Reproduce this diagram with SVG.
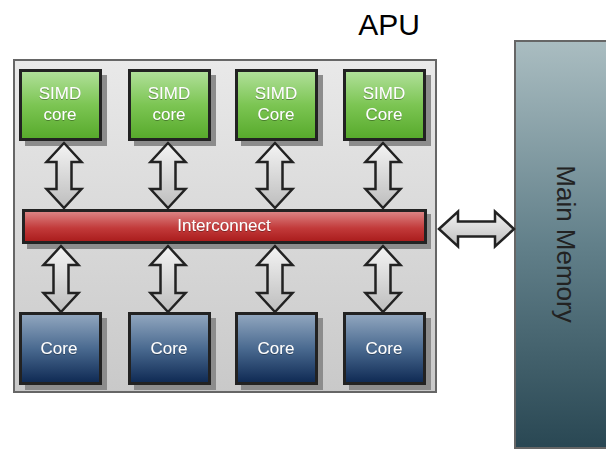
<svg xmlns="http://www.w3.org/2000/svg" width="606" height="450" viewBox="0 0 606 450">
  <defs>
    <linearGradient id="gApu" x1="0" y1="0" x2="0" y2="1">
      <stop offset="0" stop-color="#e9e9e9"/>
      <stop offset="1" stop-color="#c9c9c9"/>
    </linearGradient>
    <linearGradient id="gSimd" x1="0" y1="0" x2="0" y2="1">
      <stop offset="0" stop-color="#b2e19c"/>
      <stop offset="0.5" stop-color="#7cc553"/>
      <stop offset="1" stop-color="#56a92a"/>
    </linearGradient>
    <linearGradient id="gCore" x1="0" y1="0" x2="0" y2="1">
      <stop offset="0" stop-color="#93a8c0"/>
      <stop offset="0.5" stop-color="#4a6a90"/>
      <stop offset="1" stop-color="#0d2852"/>
    </linearGradient>
    <linearGradient id="gBus" x1="0" y1="0" x2="0" y2="1">
      <stop offset="0" stop-color="#de8a8a"/>
      <stop offset="0.55" stop-color="#c23a3a"/>
      <stop offset="1" stop-color="#a81a1a"/>
    </linearGradient>
    <linearGradient id="gMem" x1="0" y1="0" x2="0" y2="1">
      <stop offset="0" stop-color="#aabdc1"/>
      <stop offset="0.5" stop-color="#62808a"/>
      <stop offset="1" stop-color="#294753"/>
    </linearGradient>
    <linearGradient id="gArrow" x1="0" y1="0" x2="0" y2="1">
      <stop offset="0" stop-color="#f4f4f4"/>
      <stop offset="1" stop-color="#bdbdbd"/>
    </linearGradient>
    <filter id="txtShadow" x="-10%" y="-30%" width="120%" height="160%">
      <feDropShadow dx="0" dy="0.6" stdDeviation="0.6" flood-color="#000" flood-opacity="0.55"/>
    </filter>
  </defs>
  <style>
    .shadow { fill: #8c8c8c; }
    .box { stroke: #222; stroke-width: 3; }
    .simd { fill: url(#gSimd); }
    .core { fill: url(#gCore); }
    .label { font-family: "Liberation Sans", Arial, sans-serif; font-size: 17px; fill: #fff; text-anchor: middle; filter: url(#txtShadow); }
    .arrow { fill: url(#gArrow); stroke: #222; stroke-width: 2.5; stroke-linejoin: miter; }
  </style>

  <!-- APU enclosure -->
  <g id="apu">
    <rect x="14" y="60" width="422" height="332" fill="url(#gApu)" stroke="#666" stroke-width="2"/>
    <text x="389" y="35" font-family="Liberation Sans, Arial, sans-serif" font-size="30" fill="#000" text-anchor="middle">APU</text>
  </g>

  <!-- Main memory -->
  <g id="main-memory">
    <rect x="515" y="41" width="100" height="407" fill="url(#gMem)" stroke="#666" stroke-width="2"/>
    <text transform="translate(557 244) rotate(90)" font-family="Liberation Sans, Arial, sans-serif" font-size="26" fill="#222" text-anchor="middle">Main Memory</text>
  </g>

  <!-- SIMD cores -->
  <g id="simd1">
    <rect class="shadow" x="25" y="75" width="82" height="71"/>
    <rect class="box simd" x="20.5" y="70.5" width="80" height="69"/>
    <text class="label" x="60" y="99">SIMD</text>
    <text class="label" x="60" y="120">core</text>
  </g>
  <g id="simd2">
    <rect class="shadow" x="134" y="75" width="82" height="71"/>
    <rect class="box simd" x="129.5" y="70.5" width="80" height="69"/>
    <text class="label" x="169" y="99">SIMD</text>
    <text class="label" x="169" y="120">core</text>
  </g>
  <g id="simd3">
    <rect class="shadow" x="241" y="75" width="82" height="71"/>
    <rect class="box simd" x="236.5" y="70.5" width="80" height="69"/>
    <text class="label" x="276" y="99">SIMD</text>
    <text class="label" x="276" y="120">Core</text>
  </g>
  <g id="simd4">
    <rect class="shadow" x="349" y="75" width="82" height="71"/>
    <rect class="box simd" x="344.5" y="70.5" width="80" height="69"/>
    <text class="label" x="384" y="99">SIMD</text>
    <text class="label" x="384" y="120">Core</text>
  </g>

  <!-- Interconnect bus -->
  <g id="interconnect">
    <rect class="shadow" x="27" y="214" width="404" height="35"/>
    <rect class="box" x="23.5" y="210.5" width="402" height="32" fill="url(#gBus)"/>
    <text class="label" x="224" y="231">Interconnect</text>
  </g>

  <!-- General cores -->
  <g id="core1">
    <rect class="shadow" x="25" y="318" width="82" height="72"/>
    <rect class="box core" x="20.5" y="313.5" width="80" height="70"/>
    <text class="label" x="59" y="354">Core</text>
  </g>
  <g id="core2">
    <rect class="shadow" x="134" y="318" width="82" height="72"/>
    <rect class="box core" x="129.5" y="313.5" width="80" height="70"/>
    <text class="label" x="169" y="354">Core</text>
  </g>
  <g id="core3">
    <rect class="shadow" x="241" y="318" width="82" height="72"/>
    <rect class="box core" x="236.5" y="313.5" width="80" height="70"/>
    <text class="label" x="276" y="354">Core</text>
  </g>
  <g id="core4">
    <rect class="shadow" x="349" y="318" width="82" height="72"/>
    <rect class="box core" x="344.5" y="313.5" width="80" height="70"/>
    <text class="label" x="384" y="354">Core</text>
  </g>

  <!-- Connectors: block double-headed arrows -->
  <g id="connectors">
    <!-- SIMD cores to interconnect -->
    <path class="arrow" d="M64 143 L81.5 162 L71.5 162 L71.5 189 L81.5 189 L64 208 L46.5 189 L56.5 189 L56.5 162 L46.5 162 Z"/>
    <path class="arrow" d="M168 143 L185.5 162 L175.5 162 L175.5 189 L185.5 189 L168 208 L150.5 189 L160.5 189 L160.5 162 L150.5 162 Z"/>
    <path class="arrow" d="M275 143 L292.5 162 L282.5 162 L282.5 189 L292.5 189 L275 208 L257.5 189 L267.5 189 L267.5 162 L257.5 162 Z"/>
    <path class="arrow" d="M383 143 L400.5 162 L390.5 162 L390.5 189 L400.5 189 L383 208 L365.5 189 L375.5 189 L375.5 162 L365.5 162 Z"/>
    <!-- interconnect to general cores -->
    <path class="arrow" d="M61 246 L78.5 265 L68.5 265 L68.5 293 L78.5 293 L61 312 L43.5 293 L53.5 293 L53.5 265 L43.5 265 Z"/>
    <path class="arrow" d="M168 246 L185.5 265 L175.5 265 L175.5 293 L185.5 293 L168 312 L150.5 293 L160.5 293 L160.5 265 L150.5 265 Z"/>
    <path class="arrow" d="M275 246 L292.5 265 L282.5 265 L282.5 293 L292.5 293 L275 312 L257.5 293 L267.5 293 L267.5 265 L257.5 265 Z"/>
    <path class="arrow" d="M383 246 L400.5 265 L390.5 265 L390.5 293 L400.5 293 L383 312 L365.5 293 L375.5 293 L375.5 265 L365.5 265 Z"/>
    <!-- APU to main memory -->
    <path class="arrow" d="M439 229 L458 211.5 L458 221.5 L495 221.5 L495 211.5 L514 229 L495 246.5 L495 236.5 L458 236.5 L458 246.5 Z"/>
  </g>
</svg>
